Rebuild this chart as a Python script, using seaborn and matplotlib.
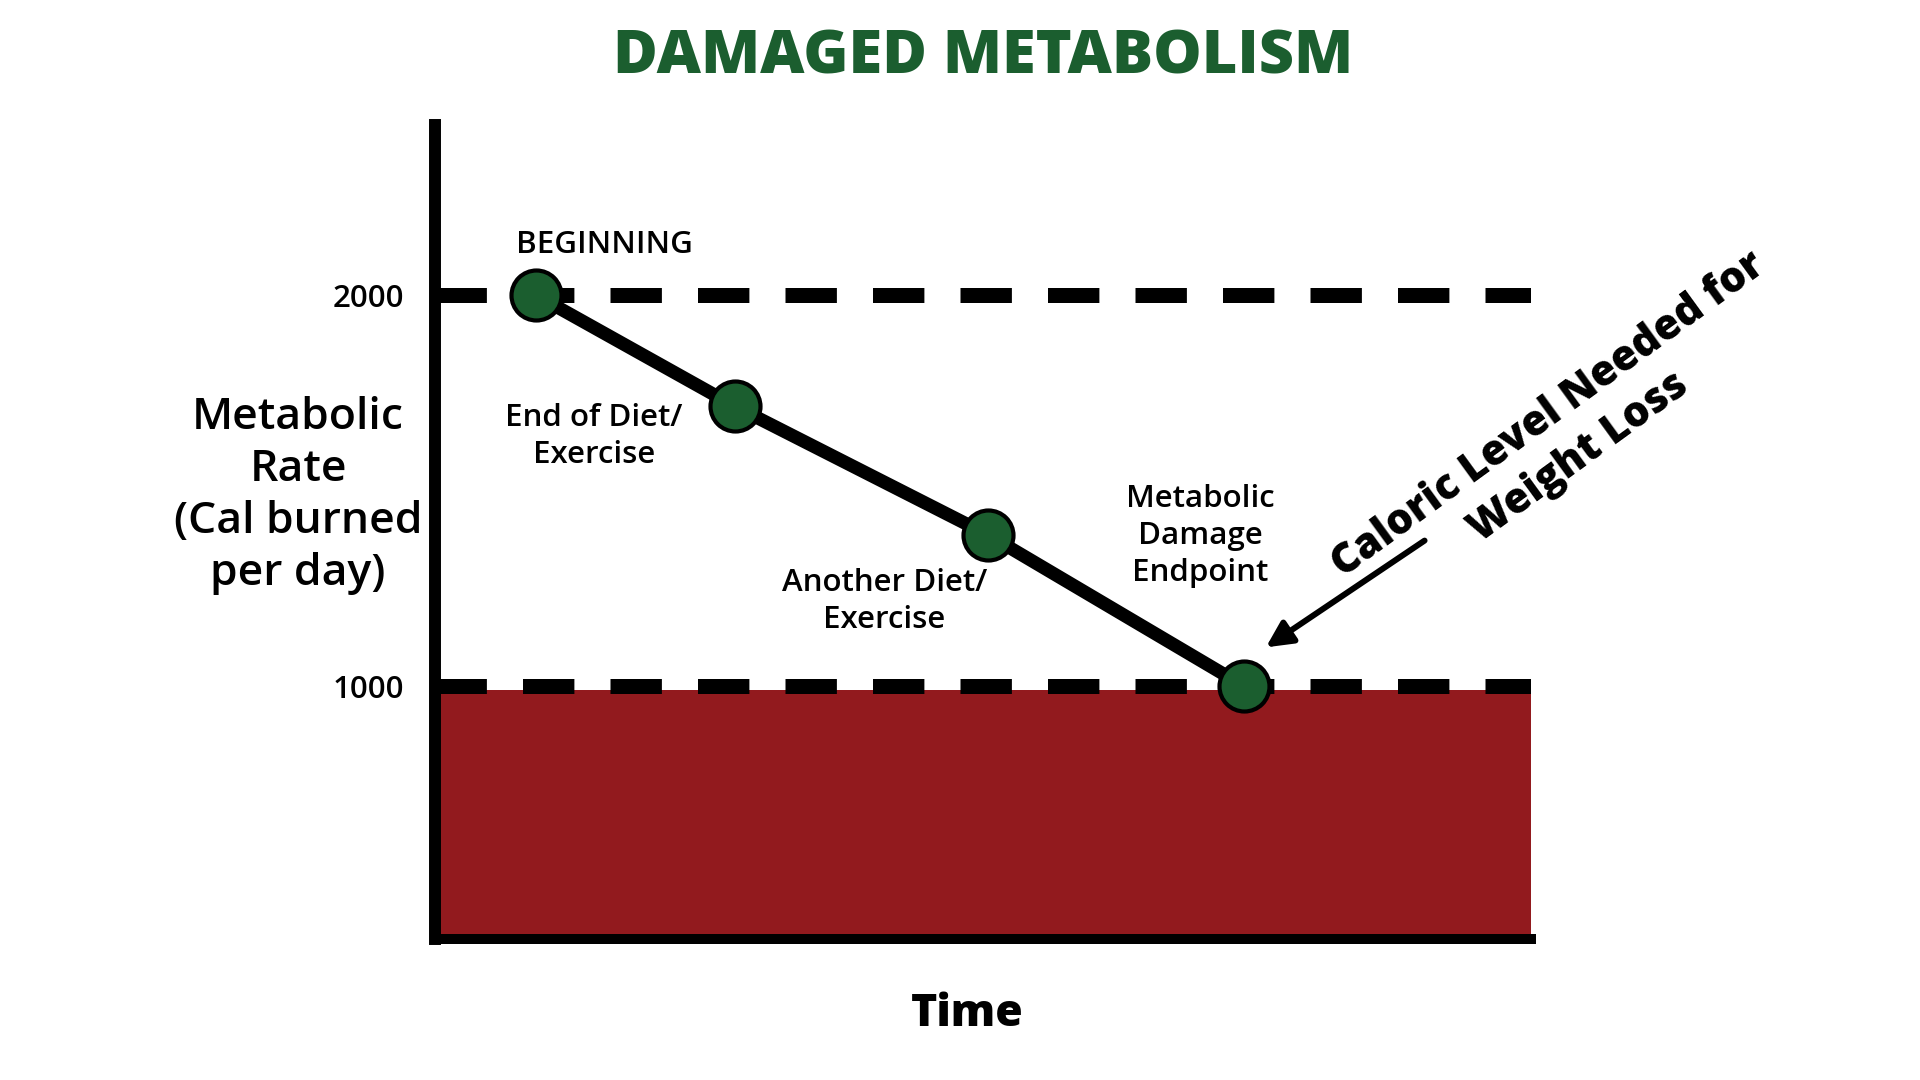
import matplotlib.pyplot as plt
import seaborn as sns
import pandas as pd
import numpy as np

# --- data ---
stages = ["BEGINNING", "End of Diet/\nExercise", "Another Diet/\nExercise", "Metabolic\nDamage\nEndpoint"]
time_pos = [0.92, 2.74, 5.05, 7.38]
metabolic_rate = [2000, 1715, 1386, 1000]
reference_levels = [2000, 1000]
danger_top = 990
y_min, y_max = 353, 2435
x_min, x_max = 0, 10

GREEN = "#1b5e2f"
RED = "#921a1e"

sns.set_theme(style="white")
plt.rcParams['font.family'] = ['Open Sans', 'DejaVu Sans']
plt.rcParams['lines.scale_dashes'] = False
plt.rcParams['text.color'] = 'black'
plt.rcParams['axes.labelcolor'] = 'black'
plt.rcParams['ytick.color'] = 'black'

fig = plt.figure(figsize=(19.2, 10.8), dpi=100)
ax = fig.add_axes([435 / 1920, 1 - 939 / 1080, (1531 - 435) / 1920, (939 - 125) / 1080])

# red zone below the caloric floor
ax.fill_between([x_min, x_max], y_min, danger_top, color=RED, zorder=1, linewidth=0)

# dashed reference levels
for lvl in reference_levels:
    ax.plot([x_min, x_max], [lvl, lvl], color="black", linewidth=10.8,
            linestyle=(0, (37, 26)), solid_capstyle="butt", zorder=2)

df = pd.DataFrame({"Time": time_pos, "Rate": metabolic_rate, "Stage": stages})
sns.lineplot(data=df, x="Time", y="Rate", color="black", linewidth=9.5, ax=ax, zorder=3)
sns.scatterplot(data=df, x="Time", y="Rate", s=36 ** 2, color=GREEN, edgecolor="black",
                linewidth=3, ax=ax, zorder=4)

# stage labels
label_pos = [(1.55, 2128), (1.45, 1639), (4.10, 1217), (6.98, 1384)]
for txt, (lx, ly) in zip(stages, label_pos):
    ax.text(lx, ly, txt, ha="center", va="center", fontsize=22.5, fontweight="semibold",
            linespacing=1.32, zorder=5)

# rotated annotation with arrow
ax.annotate("", xy=(7.56, 1095), xytext=(9.05, 1376),
            arrowprops=dict(arrowstyle="-|>,head_length=1.3,head_width=0.65",
                            color="black", linewidth=4.3), annotation_clip=False, zorder=5)
ax.text(10.30, 1639, "Caloric Level Needed for\nWeight Loss", rotation=36,
        rotation_mode="anchor", ha="center", va="center", fontsize=30,
        fontweight="heavy", linespacing=1.3, clip_on=False, zorder=5)

ax.set_xlim(x_min, x_max)
ax.set_ylim(y_min, y_max)
ax.set_xticks([])
ax.set_yticks(reference_levels)
ax.set_yticklabels([str(v) for v in reference_levels], fontsize=22.5, fontweight="semibold")
ax.tick_params(axis="y", length=0, pad=22)

for side in ["top", "right"]:
    ax.spines[side].set_visible(False)
ax.spines["left"].set_linewidth(8.6)
ax.spines["bottom"].set_linewidth(7.2)
ax.spines["left"].set_color("black")
ax.spines["bottom"].set_color("black")

ax.set_xlabel("Time", fontsize=32, fontweight="heavy", va="center")
ax.xaxis.set_label_coords(0.486, -0.093)
ax.set_ylabel("Metabolic\nRate\n(Cal burned\nper day)", rotation=0, fontsize=32,
              fontweight="semibold", ha="center", va="center", linespacing=1.28)
ax.yaxis.set_label_coords(-0.125, 0.545)

ax.set_title("DAMAGED METABOLISM", fontsize=44, fontweight="heavy", color=GREEN, pad=37)

fig.savefig("out.png", dpi=100, facecolor="white")
